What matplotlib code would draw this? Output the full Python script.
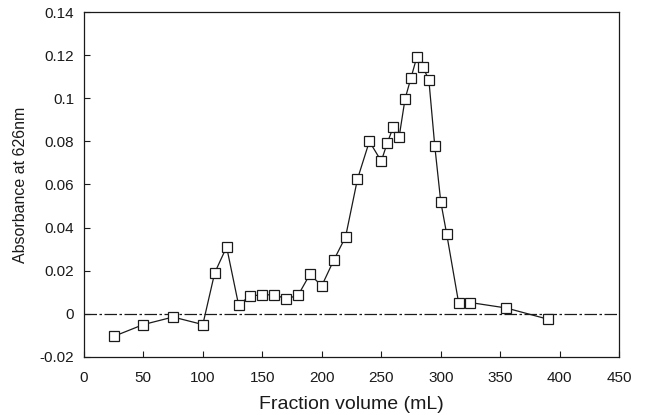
#!/usr/bin/env python3

import matplotlib
matplotlib.use("Agg")
import matplotlib.pyplot as plt

# Elution profile: fraction volume (mL) vs absorbance at 626 nm
volume = [25, 50, 75, 100, 110, 120, 130, 140, 150, 160, 170, 180, 190, 200,
          210, 220, 230, 240, 250, 255, 260, 265, 270, 275, 280, 285, 290,
          295, 300, 305, 315, 325, 355, 390]
absorbance = [-0.0105, -0.005, -0.0015, -0.005, 0.019, 0.031, 0.0043, 0.0083,
              0.0088, 0.0088, 0.007, 0.0085, 0.0183, 0.013, 0.0248, 0.0357,
              0.0625, 0.080, 0.0708, 0.0792, 0.0865, 0.082, 0.0997, 0.1095,
              0.1193, 0.1145, 0.1085, 0.0777, 0.052, 0.037, 0.0052, 0.0052,
              0.0027, -0.0025]

x_ticks = [0, 50, 100, 150, 200, 250, 300, 350, 400, 450]
y_ticks = [-0.02, 0, 0.02, 0.04, 0.06, 0.08, 0.1, 0.12, 0.14]
y_labels = ['-0.02', '0', '0.02', '0.04', '0.06', '0.08', '0.1', '0.12', '0.14']

plt.rcParams['font.family'] = ['Liberation Sans', 'DejaVu Sans']
ink = '#1a1a1a'

fig = plt.figure(figsize=(6.45, 4.15), dpi=100)
ax = fig.add_axes([0.130, 0.140, 0.830, 0.831])

ax.axhline(0, color=ink, lw=0.9, linestyle=(0, (10, 2, 2, 2)), zorder=1)
ax.plot(volume, absorbance, color=ink, lw=0.9, marker='s', markersize=7.5,
        markerfacecolor='white', markeredgecolor=ink, markeredgewidth=0.9,
        zorder=2)

ax.set_xlim(0, 450)
ax.set_ylim(-0.02, 0.14)
ax.set_xticks(x_ticks)
ax.set_yticks(y_ticks)
ax.set_yticklabels(y_labels)
ax.tick_params(direction='in', length=4, width=0.8, colors=ink,
               labelsize=11, pad=7)
ax.tick_params(axis='x', pad=10)
for side in ax.spines.values():
    side.set_color(ink)
    side.set_linewidth(0.9)

ax.set_xlabel('Fraction volume (mL)', fontsize=14, color=ink, labelpad=8)
ax.set_ylabel('Absorbance at 626nm', fontsize=11.5, color=ink, labelpad=8)

fig.savefig('out.png', dpi=100)
plt.close(fig)
